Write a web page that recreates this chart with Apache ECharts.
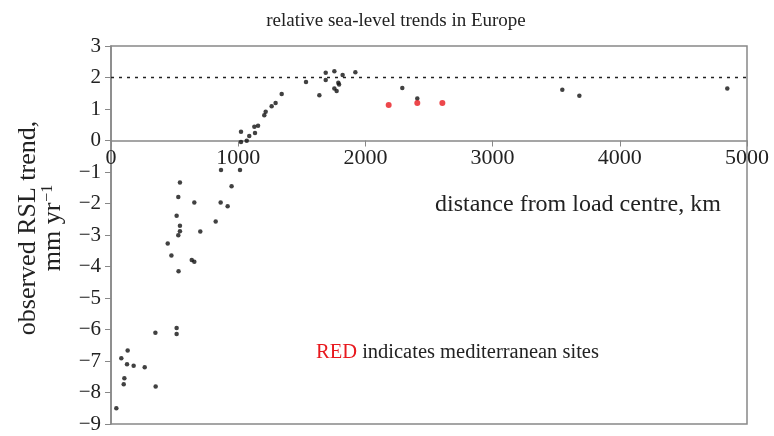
<!DOCTYPE html>
<html><head><meta charset="utf-8">
<script src="https://cdn.jsdelivr.net/npm/echarts@6/dist/echarts.min.js"></script>
<style>html,body{margin:0;padding:0;background:#fff}#c{width:774px;height:436px}</style>
</head><body><div id="c"></div>
<script>
var titleText = 'relative sea-level trends in Europe';
var xTicks = [0, 1000, 2000, 3000, 4000, 5000];
var yTicks = [-9, -8, -7, -6, -5, -4, -3, -2, -1, 0, 1, 2, 3];
var refLevel = 2;
// black: non-mediterranean sites [distance km, trend mm/yr]
var otherDist = [1022,1022,1067,1087,1132,1127,1156,1205,1216,1263,1294,1342,1533,1638,1688,1688,1756,1756,1774,1787,1793,1821,1921,
  2290,2408,3548,3682,4845,
  542,948,529,655,862,917,516,823,542,542,529,702,446,475,635,655,531,865,1014,
  349,516,516,131,81,126,178,265,105,100,351,42];
var otherTrend = [0.28,-0.05,-0.01,0.14,0.24,0.44,0.47,0.80,0.91,1.09,1.19,1.48,1.86,1.44,2.15,1.92,2.20,1.65,1.57,1.83,1.78,2.08,2.17,
  1.67,1.33,1.61,1.42,1.65,
  -1.33,-1.45,-1.79,-1.97,-1.97,-2.09,-2.39,-2.57,-2.71,-2.88,-3.01,-2.89,-3.27,-3.65,-3.79,-3.85,-4.15,-0.94,-0.94,
  -6.10,-5.95,-6.14,-6.67,-6.91,-7.10,-7.15,-7.20,-7.55,-7.74,-7.81,-8.50];
// red: mediterranean sites
var medDist = [2183, 2408, 2605];
var medTrend = [1.13, 1.19, 1.19];

function pairs(a, b){ return a.map(function(v,i){ return [v, b[i]]; }); }

var W = 774, H = 436;
var G = { left: 111, right: 27, top: 46, bottom: 12 };
var yMin = -9, yMax = 3;
var gridH = H - G.top - G.bottom;
var zeroOffset = -gridH * (0 - yMin) / (yMax - yMin);

var chart = echarts.init(document.getElementById('c'));
var serif = 'Liberation Serif';
chart.setOption({
  animation: false,
  backgroundColor: '#fff',
  textStyle: { fontFamily: serif },
  grid: { left: G.left, right: G.right, top: G.top, bottom: G.bottom, show: true, borderColor: '#888', borderWidth: 1.5,
    backgroundColor: 'transparent', containLabel: false, outerBoundsMode: 'none' },
  xAxis: { type: 'value', min: 0, max: 5000, interval: 1000, position: 'bottom', offset: zeroOffset,
    axisLine: { onZero: false, lineStyle: { color: '#888', width: 1.5 } },
    axisTick: { show: true, inside: false, length: 6, lineStyle: { color: '#888' } },
    splitLine: { show: false },
    axisLabel: { margin: 7, fontFamily: serif, fontSize: 22, color: '#222',
      formatter: function(v){ return xTicks.indexOf(v) >= 0 ? String(v) : ''; } } },
  yAxis: { type: 'value', min: yMin, max: yMax, interval: 1,
    axisLine: { lineStyle: { color: '#888', width: 1.5 } },
    axisTick: { show: true, length: 6, lineStyle: { color: '#888' } },
    splitLine: { show: false },
    axisLabel: { margin: 10, fontFamily: serif, fontSize: 21, color: '#222',
      formatter: function(v){ return yTicks.indexOf(v) >= 0 ? (v < 0 ? '−' + Math.abs(v) : String(v)) : ''; } } },
  series: [
    { type: 'scatter', data: pairs(otherDist, otherTrend), symbol: 'circle', symbolSize: 4.5,
      itemStyle: { color: '#111' }, z: 3,
      markLine: { silent: true, symbol: 'none', label: { show: false },
        lineStyle: { color: '#222', type: [3, 5], width: 1.3 },
        data: [{ yAxis: refLevel }] } },
    { type: 'scatter', data: pairs(medDist, medTrend), symbol: 'circle', symbolSize: 6,
      itemStyle: { color: '#e8191e' }, z: 4 }
  ],
  graphic: [
    { type: 'text', x: 396, y: 21, style: { text: titleText, font: '19px "Liberation Serif"', fill: '#222',
        textAlign: 'center', textVerticalAlign: 'middle' } },
    { type: 'text', x: 41, y: 228, rotation: Math.PI / 2,
      style: { text: '{a|observed RSL trend,}\n{a|mm yr}{s|−1}', fill: '#222', textAlign: 'center', textVerticalAlign: 'middle',
        rich: {
          a: { font: '26px "Liberation Serif"', fill: '#222', lineHeight: 24, align: 'center' },
          s: { font: '16px "Liberation Serif"', fill: '#222', verticalAlign: 'top', padding: [0, 0, 10, 1] } } } },
    { type: 'text', x: 435, y: 205, style: { text: 'distance from load centre, km', font: '24px "Liberation Serif"', fill: '#222',
        textVerticalAlign: 'middle' } },
    { type: 'text', x: 316, y: 353, style: { text: '{r|RED} indicates mediterranean sites',
        font: '20.5px "Liberation Serif"', fill: '#222', textVerticalAlign: 'middle',
        rich: { r: { fill: '#e8191e', font: '20.5px "Liberation Serif"' } } } }
  ]
});
</script></body></html>
